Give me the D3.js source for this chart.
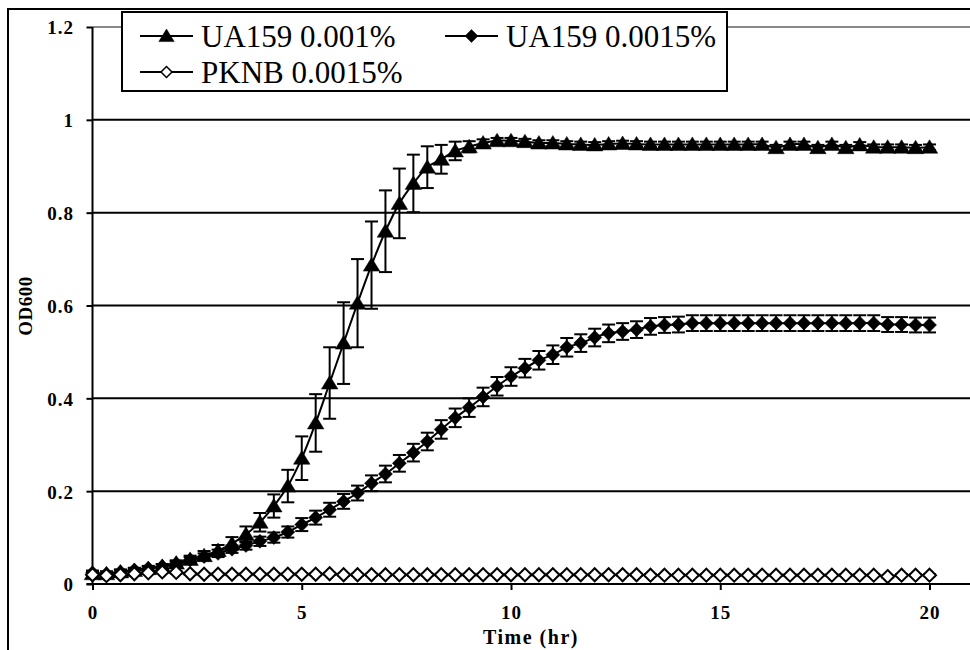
<!DOCTYPE html>
<html>
<head>
<meta charset="utf-8">
<script src="https://cdn.jsdelivr.net/npm/d3@7"></script>
<style>
  html, body { margin: 0; padding: 0; background: #fff; }
  svg { display: block; }
  svg text { font-family: "Liberation Serif", Tinos, "Times New Roman", Times, "DejaVu Serif", serif; fill: #000; }
</style>
</head>
<body>
<svg id="chart" width="970" height="650"></svg>
<script>
// ---------- DATA ----------
const timeHr = [0,0.333,0.667,1,1.333,1.667,2,2.333,2.667,3,3.333,3.667,4,4.333,4.667,5,5.333,5.667,6,6.333,6.667,7,7.333,7.667,8,8.333,8.667,9,9.333,9.667,10,10.333,10.667,11,11.333,11.667,12,12.333,12.667,13,13.333,13.667,14,14.333,14.667,15,15.333,15.667,16,16.333,16.667,17,17.333,17.667,18,18.333,18.667,19,19.333,19.667,20];

const ua159_0001 = [0.022,0.022,0.026,0.029,0.033,0.038,0.045,0.053,0.061,0.072,0.087,0.107,0.133,0.168,0.211,0.271,0.347,0.433,0.519,0.605,0.687,0.760,0.820,0.863,0.898,0.915,0.933,0.942,0.950,0.955,0.955,0.953,0.950,0.950,0.948,0.947,0.946,0.948,0.949,0.948,0.947,0.947,0.947,0.947,0.947,0.947,0.947,0.947,0.947,0.940,0.947,0.947,0.940,0.947,0.940,0.946,0.941,0.941,0.941,0.940,0.941];
const ua159_0001_err = [0.005,0.005,0.005,0.005,0.005,0.005,0.006,0.008,0.010,0.012,0.014,0.017,0.020,0.025,0.035,0.047,0.062,0.077,0.088,0.095,0.094,0.088,0.075,0.062,0.045,0.031,0.020,0.012,0.008,0.006,0.006,0.006,0.006,0.006,0.006,0.006,0.006,0.006,0.006,0.006,0.006,0.006,0.006,0.006,0.006,0.006,0.006,0.006,0.006,0.006,0.006,0.006,0.006,0.006,0.006,0.006,0.006,0.006,0.006,0.006,0.006];

const ua159_00015 = [0.024,0.022,0.026,0.030,0.034,0.038,0.044,0.052,0.059,0.066,0.075,0.083,0.092,0.100,0.112,0.128,0.143,0.160,0.178,0.196,0.217,0.237,0.260,0.283,0.307,0.333,0.358,0.380,0.403,0.426,0.447,0.465,0.482,0.494,0.510,0.519,0.531,0.540,0.544,0.548,0.555,0.558,0.559,0.562,0.562,0.562,0.562,0.562,0.562,0.562,0.562,0.562,0.562,0.562,0.562,0.562,0.562,0.559,0.559,0.558,0.558];
const ua159_00015_err = [0.005,0.005,0.005,0.005,0.005,0.005,0.005,0.006,0.007,0.008,0.008,0.009,0.010,0.011,0.012,0.014,0.015,0.015,0.016,0.016,0.017,0.018,0.018,0.019,0.019,0.020,0.020,0.020,0.020,0.020,0.020,0.020,0.020,0.020,0.020,0.019,0.019,0.019,0.018,0.018,0.018,0.017,0.017,0.017,0.017,0.017,0.017,0.017,0.017,0.017,0.017,0.017,0.017,0.017,0.017,0.017,0.017,0.016,0.016,0.016,0.016];

const pknb_00015 = [0.020,0.018,0.020,0.022,0.024,0.026,0.025,0.022,0.021,0.021,0.021,0.021,0.021,0.021,0.021,0.021,0.021,0.022,0.020,0.020,0.020,0.020,0.020,0.020,0.020,0.020,0.020,0.020,0.020,0.020,0.020,0.020,0.020,0.020,0.020,0.020,0.020,0.020,0.020,0.020,0.019,0.019,0.019,0.019,0.019,0.019,0.019,0.019,0.019,0.019,0.019,0.019,0.019,0.019,0.019,0.019,0.019,0.016,0.019,0.019,0.019];
const pknb_00015_err = [0.002,0.002,0.002,0.002,0.002,0.002,0.002,0.002,0.002,0.002,0.002,0.002,0.002,0.002,0.002,0.002,0.002,0.002,0.002,0.002,0.002,0.002,0.002,0.002,0.002,0.002,0.002,0.002,0.002,0.002,0.002,0.002,0.002,0.002,0.002,0.002,0.002,0.002,0.002,0.002,0.002,0.002,0.002,0.002,0.002,0.002,0.002,0.002,0.002,0.002,0.002,0.002,0.002,0.002,0.002,0.002,0.002,0.002,0.002,0.002,0.002];

const seriesNames = ["UA159 0.001%", "UA159 0.0015%", "PKNB 0.0015%"];
const xTicks = [0, 5, 10, 15, 20];
const yTicks = [0, 0.2, 0.4, 0.6, 0.8, 1, 1.2];
const xTitle = "Time (hr)";
const yTitle = "OD600";

// ---------- CHART ----------
const FONT = "'Liberation Serif', Tinos, 'Times New Roman', Times, 'DejaVu Serif', serif";
const svg = d3.select("#chart");
const x = d3.scaleLinear().domain([0, 20]).range([92.5, 929.5]);
const y = d3.scaleLinear().domain([0, 1.2]).range([584, 27]);
const rightEdge = 975;

// outer chart frame (extends past the cropped edges)
svg.append("rect").attr("x", 8).attr("y", 9).attr("width", 1000).attr("height", 700)
  .attr("fill", "#fff").attr("stroke", "#000").attr("stroke-width", 2);

// gridlines
svg.append("g").selectAll("line").data(yTicks.filter(d => d > 0 && d < 1.2)).join("line")
  .attr("x1", x(0)).attr("x2", rightEdge)
  .attr("y1", d => y(d)).attr("y2", d => y(d))
  .attr("stroke", "#000").attr("stroke-width", 2);
// plot-area top border (grey)
svg.append("line").attr("x1", x(0)).attr("x2", rightEdge).attr("y1", y(1.2)).attr("y2", y(1.2))
  .attr("stroke", "#888").attr("stroke-width", 2);

// y axis
const yAxis = svg.append("g").attr("transform", `translate(${x(0)},0)`)
  .call(d3.axisLeft(y).tickValues(yTicks).tickSize(6).tickPadding(12.5).tickFormat(d => String(d)));
yAxis.attr("font-family", FONT);
yAxis.select(".domain").remove();
yAxis.selectAll(".tick line").attr("stroke", "#000").attr("stroke-width", 2);
yAxis.selectAll(".tick text").style("font-family", FONT)
  .attr("font-size", 19).attr("font-weight", "bold").attr("letter-spacing", 1).attr("dy", "0.36em");
svg.append("line").attr("x1", x(0)).attr("x2", x(0)).attr("y1", y(1.2)).attr("y2", y(0))
  .attr("stroke", "#000").attr("stroke-width", 2);

// x axis
const xAxis = svg.append("g").attr("transform", `translate(0,${y(0)})`)
  .call(d3.axisBottom(x).tickValues(xTicks).tickSize(6).tickPadding(16).tickFormat(d => String(d)));
xAxis.attr("font-family", FONT);
xAxis.select(".domain").remove();
xAxis.selectAll(".tick line").attr("stroke", "#000").attr("stroke-width", 2);
xAxis.selectAll(".tick text").style("font-family", FONT)
  .attr("font-size", 19).attr("font-weight", "bold").attr("letter-spacing", 1);
svg.append("line").attr("x1", x(0) - 6).attr("x2", rightEdge).attr("y1", y(0)).attr("y2", y(0))
  .attr("stroke", "#000").attr("stroke-width", 2);

// axis titles
svg.append("text").attr("x", 531).attr("y", 644).attr("text-anchor", "middle").style("font-family", FONT)
  .attr("font-size", 20).attr("font-weight", "bold").attr("letter-spacing", 1.5).text(xTitle);
svg.append("text").attr("transform", "translate(32,306) rotate(-90)").attr("text-anchor", "middle").style("font-family", FONT)
  .attr("font-size", 19).attr("font-weight", "bold").attr("letter-spacing", 0.5).text(yTitle);

// marker shapes
function triPath(s) { return `M0,${-s*0.5}L${s*0.55},${s*0.4}L${-s*0.55},${s*0.4}Z`; }
function diaPath(s) { return `M0,${-s/2}L${s/2},0L0,${s/2}L${-s/2},0Z`; }

const series = [
  { name: seriesNames[0], vals: ua159_0001, err: ua159_0001_err, shape: "tri", fill: "#000" },
  { name: seriesNames[1], vals: ua159_00015, err: ua159_00015_err, shape: "dia", fill: "#000" },
  { name: seriesNames[2], vals: pknb_00015, err: pknb_00015_err, shape: "dia", fill: "#fff" }
];

const line = d3.line().x(d => x(d.t)).y(d => y(d.v)).curve(d3.curveCatmullRom.alpha(0.5));

series.forEach(s => {
  const pts = timeHr.map((t, i) => ({ t, v: s.vals[i], e: s.err[i] }));
  const g = svg.append("g");
  const eb = g.append("g").selectAll("g").data(pts).join("g");
  eb.append("line").attr("x1", d => x(d.t)).attr("x2", d => x(d.t))
    .attr("y1", d => y(d.v + d.e)).attr("y2", d => y(d.v - d.e))
    .attr("stroke", "#000").attr("stroke-width", 2);
  eb.append("line").attr("x1", d => x(d.t) - 6.5).attr("x2", d => x(d.t) + 6.5)
    .attr("y1", d => y(d.v + d.e)).attr("y2", d => y(d.v + d.e))
    .attr("stroke", "#000").attr("stroke-width", 2);
  eb.append("line").attr("x1", d => x(d.t) - 6.5).attr("x2", d => x(d.t) + 6.5)
    .attr("y1", d => y(d.v - d.e)).attr("y2", d => y(d.v - d.e))
    .attr("stroke", "#000").attr("stroke-width", 2);
  g.append("path").datum(pts).attr("d", line).attr("fill", "none")
    .attr("stroke", "#000").attr("stroke-width", 2);
  g.append("g").selectAll("path").data(pts).join("path")
    .attr("transform", d => `translate(${x(d.t)},${y(d.v)})`)
    .attr("d", s.shape === "tri" ? triPath(15) : diaPath(s.fill === "#000" ? 14 : 13))
    .attr("fill", s.fill).attr("stroke", "#000")
    .attr("stroke-width", s.fill === "#000" ? 0.5 : 2);
});

// legend
const lg = svg.append("g");
lg.append("rect").attr("x", 122).attr("y", 12).attr("width", 605).attr("height", 79)
  .attr("fill", "#fff").attr("stroke", "#000").attr("stroke-width", 2);
const legendItems = [
  { s: series[0], lx: 140, ly: 36 },
  { s: series[1], lx: 445, ly: 36 },
  { s: series[2], lx: 140, ly: 72 }
];
legendItems.forEach(it => {
  lg.append("line").attr("x1", it.lx).attr("x2", it.lx + 53).attr("y1", it.ly).attr("y2", it.ly)
    .attr("stroke", "#000").attr("stroke-width", 2);
  lg.append("path").attr("transform", `translate(${it.lx + 26.5},${it.ly})`)
    .attr("d", it.s.shape === "tri" ? triPath(14) : diaPath(it.s.fill === "#000" ? 13 : 11))
    .attr("fill", it.s.fill).attr("stroke", "#000")
    .attr("stroke-width", it.s.fill === "#000" ? 0.5 : 1.5);
  lg.append("text").attr("x", it.lx + 61).attr("y", it.ly + 10.5).style("font-family", FONT)
    .attr("font-size", 31).text(it.s.name);
});
</script>
</body>
</html>
